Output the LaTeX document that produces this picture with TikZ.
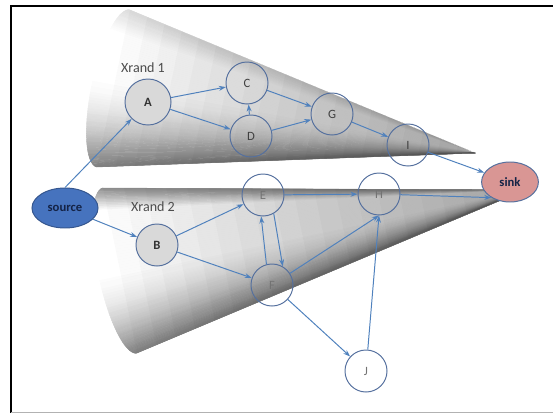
\documentclass[tikz,border=0pt]{standalone}
\usepackage{fontspec}
\setmainfont{Carlito}
\usetikzlibrary{arrows.meta,calc,shapes.geometric}
\definecolor{edgeblue}{RGB}{79,129,189}
\definecolor{rimblue}{RGB}{85,112,158}
\definecolor{srcblue}{RGB}{70,115,190}
\definecolor{sinkred}{RGB}{217,150,148}
\definecolor{labtext}{RGB}{20,35,70}
\tikzset{
  vtx/.style={circle, draw=rimblue, line width=0.7pt, minimum size=1.05cm, inner sep=0pt, font=\small, text=black!75},
  lvtx/.style={vtx, text=black!55},
  gvtx/.style={vtx, fill=black!15, font=\small\bfseries, text=black!80},
  flowarrow/.style={-{Stealth[length=5pt,width=3.5pt]}, draw=edgeblue, line width=0.7pt},
  xrand/.style={font=\normalsize, text=black!70}
}
\begin{document}
\begin{tikzpicture}[x=0.025cm,y=-0.025cm]
\useasboundingbox (0,0) rectangle (553,414);
% cone 1
\coordinate (p1) at (475,153);
\coordinate (c1) at (113.5,88.5);
\coordinate (m1) at (16.5,-78.5);
\coordinate (n1) at (-21.5,-4.5);
\coordinate (t1) at ($(c1)+(m1)$);
\coordinate (b1) at ($(c1)-(m1)$);
\foreach \t in {90,92,...,268}{
  \pgfmathsetmacro\h{(1-sin(\t+1))/2}
  \pgfmathtruncatemacro\pct{14*max(0,1-\h/0.15)+50*pow(max(0,(\h-0.4)/0.6),2)}
  \fill[black!\pct, draw=black!\pct, line width=0.3pt] (p1) -- ($(c1)+{sin(\t)}*(m1)+{-cos(\t)}*(n1)$) -- ($(c1)+{sin(\t+2)}*(m1)+{-cos(\t+2)}*(n1)$) -- cycle;
}
\foreach \k in {1,...,20}
  \fill[black, fill opacity=0.018] (p1) -- ($(p1)!{\k/20}!(t1)$) -- ($(p1)!{\k/20}!(b1)$) -- cycle;
% cone 2
\coordinate (p2) at (525,190);
\coordinate (c2) at (120,270.5);
\coordinate (m2) at (-17,-82.5);
\coordinate (n2) at (-21.5,4.4);
\coordinate (t2) at ($(c2)+(m2)$);
\coordinate (b2) at ($(c2)-(m2)$);
\foreach \t in {90,92,...,268}{
  \pgfmathsetmacro\h{(1-sin(\t+1))/2}
  \pgfmathtruncatemacro\pct{45*max(0,1-\h/0.12)+50*pow(max(0,(\h-0.45)/0.55),2)}
  \fill[black!\pct, draw=black!\pct, line width=0.3pt] (p2) -- ($(c2)+{sin(\t)}*(m2)+{-cos(\t)}*(n2)$) -- ($(c2)+{sin(\t+2)}*(m2)+{-cos(\t+2)}*(n2)$) -- cycle;
}
\foreach \k in {1,...,20}
  \fill[black, fill opacity=0.018] (p2) -- ($(p2)!{\k/20}!(t2)$) -- ($(p2)!{\k/20}!(b2)$) -- cycle;
% frame
\draw[line width=1.5pt] (11,413) -- (11,6) -- (553,6);
\draw[black!30, line width=1pt] (11,412.5) -- (553,412.5);
% labels
\node[xrand] (x1) at (143,68) {Xrand 1};
\node[xrand] (x2) at (153,207) {Xrand 2};
% nodes
\node[ellipse, fill=srcblue, draw=srcblue!75!black, line width=0.7pt, minimum width=1.65cm, minimum height=1cm, font=\small\bfseries, text=labtext] (source) at (65,208) {source};
\node[ellipse, fill=sinkred, draw=rimblue, line width=0.7pt, minimum width=1.42cm, minimum height=1cm, font=\small\bfseries, text=labtext] (sink) at (510,182) {sink};
\node[gvtx, minimum size=1.15cm] (A) at (148,102) {A};
\node[gvtx] (B) at (157,245) {B};
\node[vtx] (C) at (247,83) {C};
\node[vtx] (D) at (251,136) {D};
\node[vtx] (G) at (332,114) {G};
\node[vtx] (I) at (408,145) {I};
\node[lvtx] (E) at (263,195) {E};
\node[lvtx] (H) at (379,194) {H};
\node[lvtx] (F) at (272,285) {F};
\node[lvtx] (J) at (366,371) {J};
% arcs
\draw[flowarrow] (source.north) -- (A);
\draw[flowarrow] (source) -- (B);
\draw[flowarrow] (A) -- (C);
\draw[flowarrow] (A) -- (D);
\draw[flowarrow] (D) -- (C);
\draw[flowarrow] (C) -- (G);
\draw[flowarrow] (D) -- (G);
\draw[flowarrow] (G) -- (I);
\draw[flowarrow] (I) -- (sink);
\draw[flowarrow] (B) -- (E);
\draw[flowarrow] (B) -- (F);
\draw[flowarrow] (E) -- (H);
\draw[flowarrow] (H) -- (sink.220);
\draw[flowarrow] (F.105) -- (E.265);
\draw[flowarrow] (E.300) -- (F.60);
\draw[flowarrow] (F) -- (H.south);
\draw[flowarrow] (F) -- (J);
\draw[flowarrow] (J) -- (H.south);
\end{tikzpicture}
\end{document}
